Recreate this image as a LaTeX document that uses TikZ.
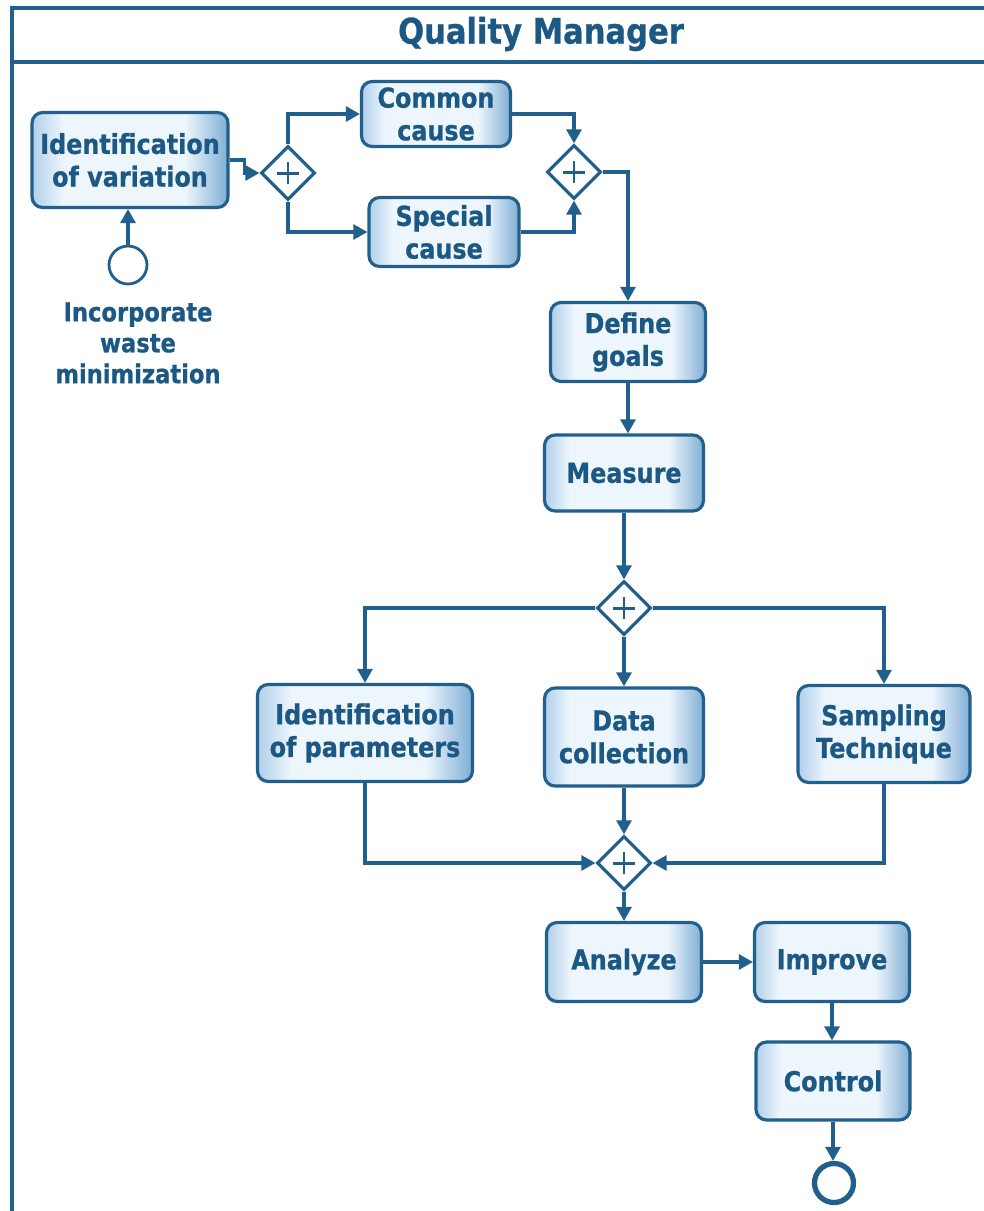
\documentclass[tikz,border=0pt]{standalone}
\usepackage{fontspec}
\setmainfont{DejaVu Sans}
\newfontfamily\narrowsans[FakeStretch=0.87,FakeBold=0.8]{DejaVu Sans}
\usetikzlibrary{arrows.meta,shapes.geometric}
\definecolor{edge}{HTML}{215F8C}
\definecolor{ink}{HTML}{1C5884}
\definecolor{fillL}{HTML}{B0CFE9}
\definecolor{fillM}{HTML}{EEF6FD}
\definecolor{fillR}{HTML}{7FAED4}
% light body with blue towards both side edges
\pgfdeclarehorizontalshading{taskfill}{100bp}{color(0bp)=(fillL); color(25bp)=(fillL); color(33bp)=(fillM); color(64bp)=(fillM); color(75bp)=(fillR); color(100bp)=(fillR)}
\begin{document}
\begin{tikzpicture}[x=0.02cm,y=-0.02cm,
  task/.style={draw=edge,line width=1.8pt,rounded corners=6pt,
    shading=taskfill,
    text=ink,font=\narrowsans\bfseries\fontsize{15.6}{18.6}\selectfont,
    align=center,inner sep=0pt},
  gw/.style={diamond,draw=edge,line width=1.8pt,fill=white,
    minimum width=1.08cm,minimum height=1.08cm,inner sep=0pt,
    path picture={
      \draw[edge,line width=1.7pt]
        ([xshift=-0.22cm]path picture bounding box.center) --
        ([xshift=0.22cm]path picture bounding box.center)
        ([yshift=-0.22cm]path picture bounding box.center) --
        ([yshift=0.22cm]path picture bounding box.center);}},
  flow/.style={draw=edge,line width=1.8pt,-{Triangle[length=8pt,width=8.5pt]}},
  frame/.style={draw=edge,line width=1.8pt}
]
\useasboundingbox (0,0) rectangle (984,1211);

% pool frame with title band
\draw[frame] (984,8) -- (12,8) -- (12,1215);
\draw[frame] (12,62) -- (984,62);
\node[text=ink,font=\narrowsans\bfseries\fontsize{20}{22}\selectfont] (title) at (541,34) {Quality Manager};

% events
\node[circle,draw=edge,line width=1.6pt,fill=white,minimum size=0.76cm,inner sep=0pt] (start) at (128,265) {};
\node[text=ink,font=\narrowsans\bfseries\fontsize{14.8}{17.6}\selectfont,align=center] (lbl) at (138,343) {Incorporate\\waste\\minimization};
\node[circle,draw=edge,line width=3pt,fill=white,minimum size=0.78cm,inner sep=0pt] (end) at (834,1183) {};

% tasks
\node[task,minimum width=3.92cm,minimum height=1.9cm] (idv) at (130,160) {Identification\\of variation};
\node[task,minimum width=2.98cm,minimum height=1.3cm] (cc) at (436,114) {Common\\cause};
\node[task,minimum width=3.0cm,minimum height=1.38cm] (sc) at (444,232) {Special\\cause};
\node[task,minimum width=3.1cm,minimum height=1.58cm] (dg) at (628,342) {Define\\goals};
\node[task,minimum width=3.18cm,minimum height=1.52cm] (ms) at (624,473) {Measure};
\node[task,minimum width=4.3cm,minimum height=1.94cm] (ip) at (365,733) {Identification\\of parameters};
\node[task,minimum width=3.18cm,minimum height=1.96cm] (dc) at (624,737) {Data\\collection};
\node[task,minimum width=3.44cm,minimum height=1.94cm] (st) at (884,734) {Sampling\\Technique};
\node[task,minimum width=3.1cm,minimum height=1.58cm] (an) at (624,962) {Analyze};
\node[task,minimum width=3.1cm,minimum height=1.58cm] (im) at (832,962) {Improve};
\node[task,minimum width=3.08cm,minimum height=1.56cm] (ct) at (833,1081) {Control};

% gateways
\node[gw] (g1) at (288,173) {};
\node[gw] (g2) at (574,172) {};
\node[gw] (g3) at (624,608) {};
\node[gw] (g4) at (624,863) {};

% sequence flows
\draw[flow] (start.north) -- (start.north |- idv.south);
\draw[flow] (idv.east) -- ++(15,0) |- (g1.west);
\draw[flow] (g1.north) |- (cc.west);
\draw[flow] (g1.south) |- (sc.west);
\draw[flow] (cc.east) -| (g2.north);
\draw[flow] (sc.east) -| (g2.south);
\draw[flow] (g2.east) -| (dg.north);
\draw[flow] (dg.south) -- (dg.south |- ms.north);
\draw[flow] (ms.south) -- (g3.north);
\draw[flow] (g3.west) -| (ip.north);
\draw[flow] (g3.south) -- (dc.north);
\draw[flow] (g3.east) -| (st.north);
\draw[flow] (ip.south) |- (g4.west);
\draw[flow] (dc.south) -- (g4.north);
\draw[flow] (st.south) |- (g4.east);
\draw[flow] (g4.south) -- (an.north);
\draw[flow] (an.east) -- (im.west);
\draw[flow] (im.south) -- (im.south |- ct.north);
\draw[flow] (ct.south) -- (ct.south |- end.north);
\end{tikzpicture}
\end{document}
